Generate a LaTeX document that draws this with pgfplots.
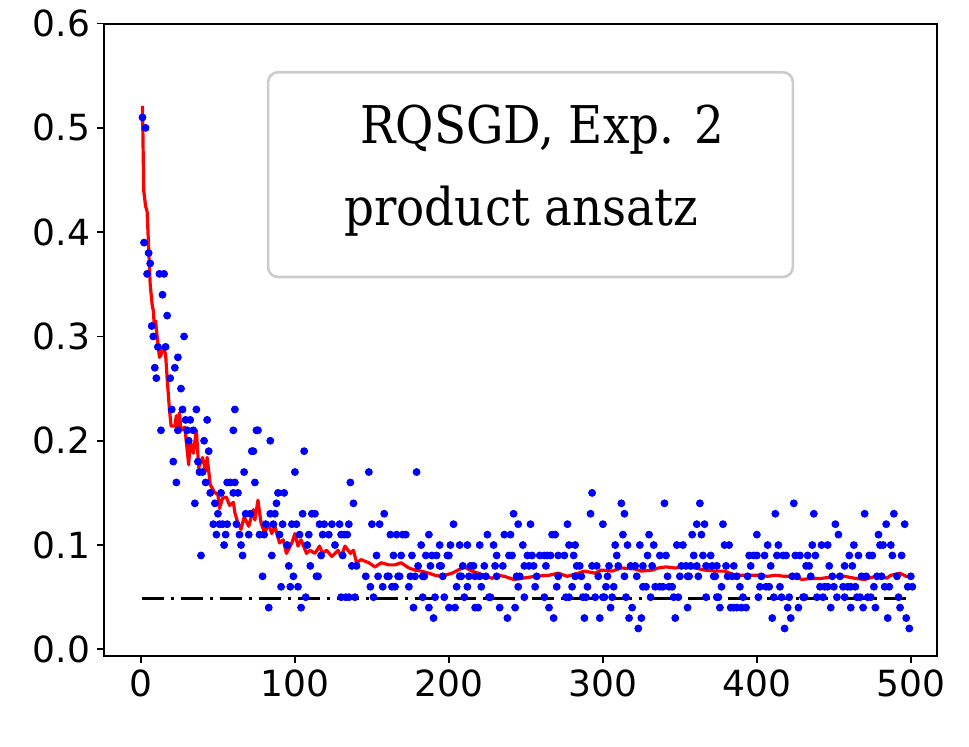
\documentclass[border=0pt]{standalone}
\usepackage{fontspec}
\usepackage{pgfplots}
\pgfplotsset{compat=1.18}
\newfontfamily\dejavu{DejaVu Sans}
\newfontfamily\dejavuserif{DejaVu Serif Condensed}
\begin{document}
\begin{tikzpicture}
\begin{axis}[
  scale only axis,
  width=416.5pt, height=316pt,
  xmin=-24, xmax=517, ymin=-0.006, ymax=0.6,
  axis line style={line width=1pt},
  tick align=outside, tick pos=left,
  major tick length=3.5pt,
  every tick/.style={black, line width=0.9pt},
  xtick={0,100,200,300,400,500},
  ytick={0,0.1,0.2,0.3,0.4,0.5,0.6},
  yticklabels={0.0,0.1,0.2,0.3,0.4,0.5,0.6},
  /pgf/number format/assume math mode=true,
  tick label style={font=\dejavu\fontsize{18}{20}\selectfont},
  clip=false,
]
\addplot[only marks, mark=*, mark size=1.75pt, blue, mark options={draw=none, fill=blue}] table {
1 0.51
3 0.50
2 0.39
5 0.38
6 0.37
4 0.36
12 0.36
15 0.36
14 0.34
17 0.32
7 0.31
8 0.30
28 0.30
11 0.29
16 0.29
24 0.28
9 0.27
22 0.27
10 0.26
19 0.26
26 0.25
20 0.23
27 0.23
36 0.23
61 0.23
29 0.22
32 0.22
43 0.22
13 0.21
24 0.21
30 0.21
34 0.21
60 0.21
31 0.20
41 0.20
21 0.18
37 0.18
44 0.19
38 0.17
40 0.17
23 0.16
42 0.16
56 0.16
58 0.16
61 0.16
45 0.15
52 0.15
60 0.15
63 0.15
35 0.14
48 0.14
50 0.13
47 0.12
51 0.12
53 0.12
56 0.12
62 0.12
49 0.11
55 0.11
54 0.10
39 0.09
75 0.21
76 0.21
84 0.20
72 0.19
73 0.19
106 0.19
67 0.17
100 0.17
74 0.16
89 0.15
93 0.15
88 0.14
68 0.13
71 0.13
84 0.13
87 0.13
105 0.13
111 0.13
113 0.13
81 0.12
86 0.12
92 0.12
98 0.12
101 0.12
116 0.12
119 0.12
124 0.12
64 0.11
70 0.11
77 0.11
80 0.11
90 0.11
103 0.11
109 0.11
118 0.11
122 0.11
65 0.10
95 0.10
108 0.10
126 0.10
66 0.09
85 0.09
117 0.09
96 0.08
110 0.08
79 0.07
99 0.07
114 0.07
115 0.07
91 0.06
97 0.06
102 0.06
107 0.05
83 0.04
104 0.04
148 0.17
179 0.17
136 0.16
138 0.14
158 0.13
129 0.12
135 0.12
150 0.12
155 0.12
130 0.11
132 0.11
134 0.11
162 0.11
166 0.11
170 0.11
172 0.11
187 0.11
182 0.10
131 0.09
153 0.09
164 0.09
169 0.09
176 0.09
185 0.09
189 0.09
137 0.08
140 0.08
180 0.08
188 0.08
146 0.07
154 0.07
160 0.07
161 0.07
167 0.07
168 0.07
175 0.07
178 0.07
183 0.07
184 0.07
149 0.06
157 0.06
163 0.06
165 0.06
174 0.06
130 0.05
133 0.05
135 0.05
139 0.05
151 0.05
183 0.05
191 0.05
177 0.04
187 0.04
190 0.03
242 0.13
203 0.12
245 0.12
253 0.12
225 0.11
236 0.11
240 0.11
194 0.10
201 0.10
207 0.10
212 0.10
220 0.10
229 0.10
248 0.10
192 0.09
199 0.09
200 0.09
231 0.09
239 0.09
241 0.09
251 0.09
254 0.09
194 0.08
195 0.08
209 0.08
214 0.08
216 0.08
223 0.08
230 0.08
235 0.08
249 0.08
252 0.08
255 0.08
196 0.07
207 0.07
208 0.07
213 0.07
217 0.07
220 0.07
224 0.07
231 0.07
244 0.07
246 0.07
205 0.06
212 0.06
221 0.06
245 0.06
256 0.06
197 0.05
210 0.05
226 0.05
227 0.05
249 0.05
200 0.04
204 0.04
217 0.04
219 0.04
233 0.04
243 0.04
238 0.03
293 0.15
312 0.14
292 0.13
314 0.13
277 0.12
300 0.12
267 0.11
269 0.11
313 0.11
278 0.10
282 0.10
308 0.10
316 0.10
259 0.09
262 0.09
264 0.09
266 0.09
271 0.09
275 0.09
281 0.09
309 0.09
263 0.08
283 0.08
285 0.08
293 0.08
296 0.08
304 0.08
310 0.08
318 0.08
257 0.07
271 0.07
282 0.07
286 0.07
297 0.07
303 0.07
314 0.07
270 0.06
280 0.06
290 0.06
302 0.06
307 0.06
262 0.05
276 0.05
278 0.05
287 0.05
289 0.05
295 0.05
300 0.05
301 0.05
306 0.05
315 0.05
265 0.04
305 0.04
319 0.04
268 0.03
288 0.03
298 0.03
317 0.03
340 0.14
363 0.14
361 0.12
366 0.12
378 0.12
330 0.11
358 0.11
364 0.11
324 0.10
333 0.10
348 0.10
352 0.10
379 0.10
382 0.10
329 0.09
337 0.09
341 0.09
359 0.09
365 0.09
370 0.09
321 0.08
326 0.08
332 0.08
351 0.08
354 0.08
357 0.08
361 0.08
367 0.08
371 0.08
374 0.08
380 0.08
385 0.08
322 0.07
342 0.07
350 0.07
355 0.07
356 0.07
362 0.07
372 0.07
373 0.07
381 0.07
384 0.07
326 0.06
328 0.06
334 0.06
337 0.06
339 0.06
343 0.06
345 0.06
377 0.06
331 0.05
346 0.05
349 0.05
367 0.05
374 0.05
375 0.05
355 0.04
376 0.04
383 0.04
385 0.04
325 0.03
347 0.03
323 0.02
424 0.14
412 0.13
437 0.13
451 0.12
400 0.11
407 0.10
414 0.10
436 0.10
442 0.10
446 0.10
395 0.09
398 0.09
400 0.09
405 0.09
413 0.09
417 0.09
419 0.09
425 0.09
428 0.09
433 0.09
438 0.09
396 0.08
409 0.08
432 0.08
434 0.08
447 0.08
387 0.07
394 0.07
403 0.07
423 0.07
426 0.07
435 0.07
449 0.07
389 0.06
402 0.06
406 0.06
408 0.06
415 0.06
441 0.06
444 0.06
446 0.06
450 0.06
391 0.05
401 0.05
411 0.05
416 0.05
421 0.05
430 0.05
431 0.05
439 0.05
443 0.05
387 0.04
390 0.04
393 0.04
420 0.04
427 0.04
448 0.04
410 0.03
422 0.03
418 0.02
470 0.13
489 0.13
484 0.12
496 0.12
453 0.11
479 0.11
463 0.10
480 0.10
482 0.10
487 0.10
460 0.09
466 0.09
473 0.09
475 0.09
488 0.09
494 0.09
457 0.08
462 0.08
454 0.07
468 0.07
471 0.07
478 0.07
481 0.07
491 0.07
500 0.07
456 0.06
459 0.06
461 0.06
464 0.06
476 0.06
483 0.06
486 0.06
498 0.06
501 0.06
452 0.05
457 0.05
465 0.05
467 0.05
472 0.05
474 0.05
492 0.05
461 0.04
469 0.04
477 0.04
493 0.04
485 0.03
497 0.03
499 0.02
};
\addplot[red, line width=1.6pt, line join=round] table {
1 0.521
1.8 0.44
3 0.425
4 0.42
6 0.35
7.3 0.33
8 0.325
8.7 0.31
9.5 0.315
10.5 0.30
12 0.28
13 0.282
14.5 0.29
16 0.283
17 0.26
18.5 0.23
19.6 0.214
22 0.214
23 0.224
24 0.212
25 0.227
26 0.21
28.5 0.213
31 0.177
32 0.20
34 0.188
36 0.21
37.5 0.174
40 0.184
42 0.171
43 0.184
45 0.158
47.6 0.151
50 0.148
51 0.135
53 0.145
55.4 0.146
57.6 0.138
60 0.141
61 0.131
63 0.121
65 0.115
67 0.127
70 0.118
73 0.134
74 0.124
76 0.143
78 0.121
80.5 0.111
82.6 0.121
85 0.111
87 0.118
90 0.102
92.4 0.105
94.5 0.092
98 0.102
100 0.111
102 0.099
104 0.105
107.5 0.092
109.7 0.095
113 0.092
116 0.099
118 0.092
120.5 0.095
124 0.089
126 0.092
128 0.095
130 0.089
132.5 0.099
136 0.092
138 0.095
140 0.083
143 0.086
148 0.083
152 0.079
156 0.083
161 0.081
165 0.081
169 0.083
174 0.078
178 0.076
182 0.075
187 0.073
191 0.071
195 0.070
202 0.073
206 0.076
210 0.079
215 0.075
219 0.073
223 0.071
228 0.068
232 0.071
236 0.070
242 0.067
247 0.068
256 0.070
265 0.071
271 0.073
277 0.070
284 0.073
288 0.075
295 0.073
299 0.076
306 0.075
312 0.078
321 0.077
325 0.075
332 0.076
336 0.078
341 0.079
347 0.078
353 0.079
360 0.078
366 0.076
373 0.075
379 0.075
386 0.071
392 0.071
401 0.071
407 0.070
412 0.071
418 0.070
425 0.070
429 0.067
436 0.068
442 0.068
451 0.070
457 0.070
464 0.068
470 0.067
477 0.070
481 0.071
484 0.068
487 0.071
493 0.073
497 0.070
501 0.069
};
\addplot[black, line width=1.4pt, dash pattern=on 11pt off 3.5pt on 1.5pt off 3.5pt] coordinates {(1,0.049) (501,0.049)};
\draw[black!20, line width=1.3pt, rounded corners=5pt, fill=white, fill opacity=0.8]
  (rel axis cs:0.197,0.599) rectangle (rel axis cs:0.827,0.923);
\node[anchor=base, inner sep=0pt, font=\dejavuserif\fontsize{26}{30}\selectfont] at (rel axis cs:0.526,0.811) {RQSGD, Exp. 2};
\node[anchor=base, inner sep=0pt, font=\dejavuserif\fontsize{26}{30}\selectfont] at (rel axis cs:0.501,0.681) {product ansatz};
\end{axis}
\pgfresetboundingbox
\path (-52pt,-45.7pt) rectangle (432.5pt,327.8pt);
\end{tikzpicture}
\end{document}
